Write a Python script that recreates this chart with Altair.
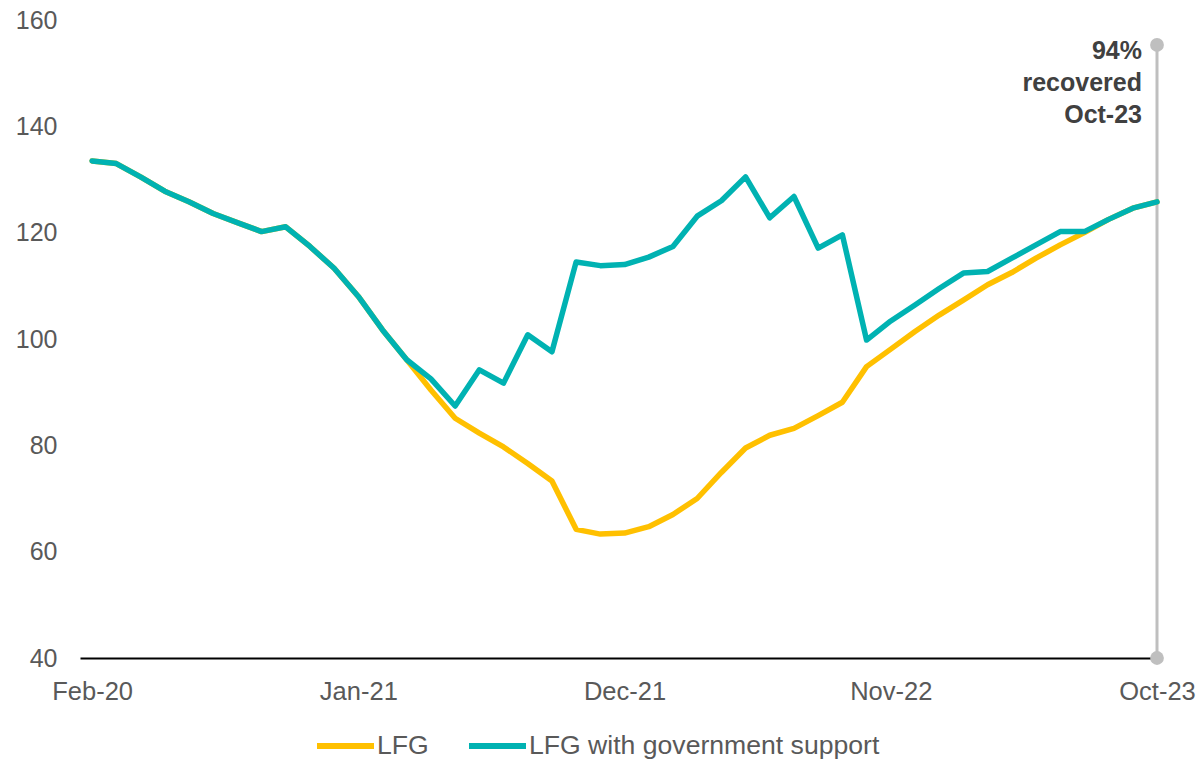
import altair as alt
import pandas as pd

# ---- data ----
month_index = list(range(45))  # Feb-20 ... Oct-23, monthly
tick_values = [0, 11, 22, 33, 44]
tick_labels = ["Feb-20", "Jan-21", "Dec-21", "Nov-22", "Oct-23"]
y_ticks = [40, 60, 80, 100, 120, 140, 160]

lfg = [133.5, 133.0, 130.5, 127.8, 125.8, 123.6, 121.9, 120.2, 121.1, 117.4,
       113.3, 108.0, 101.7, 96.1, 90.4, 85.1, 82.3, 79.7, 76.6, 73.3,
       64.2, 63.3, 63.5, 64.7, 67.0, 70.0, 74.9, 79.5, 81.9, 83.2,
       85.6, 88.1, 94.8, 98.1, 101.4, 104.5, 107.3, 110.2, 112.5, 115.2,
       117.7, 120.0, 122.5, 124.6, 125.8]
lfg_support = [133.5, 133.0, 130.5, 127.8, 125.8, 123.6, 121.9, 120.2, 121.1, 117.4,
               113.3, 108.0, 101.7, 96.1, 92.5, 87.4, 94.2, 91.7, 100.8, 97.6,
               114.5, 113.8, 114.0, 115.4, 117.4, 123.1, 126.0, 130.5, 122.8, 126.8,
               117.1, 119.6, 99.8, 103.4, 106.4, 109.5, 112.4, 112.7, 115.2, 117.7,
               120.2, 120.2, 122.5, 124.6, 125.8]

series_names = ["LFG", "LFG with government support"]
series_colors = ["#FFC000", "#00B2B2"]

annot_month = 44
annot_low = 40
annot_high = 155.3
annot_text_y = 152.7
annot_text = ["94%", "recovered", "Oct-23"]

# ---- tables ----
rows = []
for name, vals in zip(series_names, [lfg, lfg_support]):
    for m, v in zip(month_index, vals):
        rows.append({"month": m, "value": v, "series": name})
df = pd.DataFrame(rows)

df_rule = pd.DataFrame([{"month": annot_month, "low": annot_low, "high": annot_high}])
df_dots = pd.DataFrame([{"month": annot_month, "v": annot_low},
                        {"month": annot_month, "v": annot_high}])
df_text = pd.DataFrame([{"month": annot_month, "v": annot_text_y, "t": annot_text}])

label_arr = "[" + ",".join("'" + t + "'" for t in tick_labels) + "]"

x_scale = alt.Scale(domain=[-0.5, 44], nice=False, zero=False)
y_scale = alt.Scale(domain=[40, 160], nice=False, zero=False)

FONT = "Liberation Sans"
GRAY_TXT = "#595959"

lines = alt.Chart(df).mark_line(strokeWidth=5.5, strokeJoin="round", strokeCap="round").encode(
    x=alt.X("month:Q", scale=x_scale,
            axis=alt.Axis(values=tick_values,
                          labelExpr=label_arr + "[round(datum.value/11)]",
                          title=None, grid=False, ticks=False,
                          domainColor="#000000", domainWidth=2,
                          labelFontSize=25.5, labelColor=GRAY_TXT, labelFont=FONT,
                          labelPadding=21, labelBound=False, labelFlush=False,
                          labelOverlap=False)),
    y=alt.Y("value:Q", scale=y_scale,
            axis=alt.Axis(values=y_ticks, title=None, grid=False, ticks=False,
                          domain=False, labelFontSize=25, labelColor=GRAY_TXT,
                          labelFont=FONT, labelPadding=23)),
    color=alt.Color("series:N",
                    scale=alt.Scale(domain=series_names, range=series_colors),
                    legend=alt.Legend(title=None, orient="none", direction="horizontal",
                                      legendX=234, legendY=694,
                                      symbolType="stroke", symbolSize=3249,
                                      symbolStrokeWidth=6, labelFontSize=26.6,
                                      labelColor=GRAY_TXT, labelFont=FONT,
                                      labelLimit=0, labelOffset=0,
                                      columnPadding=28, padding=0)),
    order=alt.Order("series:N"),
)

rule = alt.Chart(df_rule).mark_rule(color="#BFBFBF", strokeWidth=3).encode(
    x=alt.X("month:Q", scale=x_scale),
    y=alt.Y("low:Q", scale=y_scale),
    y2="high:Q",
)

dots = alt.Chart(df_dots).mark_circle(color="#BFBFBF", opacity=1, size=190).encode(
    x=alt.X("month:Q", scale=x_scale),
    y=alt.Y("v:Q", scale=y_scale),
)

text = alt.Chart(df_text).mark_text(
    align="right", baseline="alphabetic", dx=-15, fontSize=25, fontWeight="bold",
    color="#404040", lineHeight=32, font=FONT,
).encode(
    x=alt.X("month:Q", scale=x_scale),
    y=alt.Y("v:Q", scale=y_scale),
    text="t",
)

chart = alt.layer(rule, lines, dots, text).properties(
    width=1077, height=638,
    autosize=alt.AutoSizeParams(type="none"),
    padding={"left": 80, "top": 20, "right": 39, "bottom": 102},
).configure(font=FONT).configure_view(stroke=None, strokeWidth=0)

chart.save("out.html", embed_options={"renderer": "svg", "actions": False})
